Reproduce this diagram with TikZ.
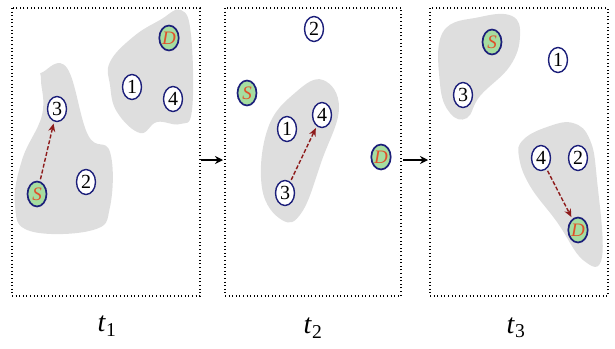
\documentclass[tikz,border=0pt]{standalone}
\usepackage{fontspec}
\setmainfont{Liberation Serif}
\usetikzlibrary{shapes.geometric,arrows.meta}
\definecolor{ringblue}{HTML}{1C1F7A}
\definecolor{nodegreen}{HTML}{A6DDA0}
\definecolor{labelred}{HTML}{E0502A}
\definecolor{blobgray}{HTML}{DEDEDE}
\definecolor{hopred}{HTML}{8E1B1B}
\tikzset{
  mobile/.style={ellipse, draw=ringblue, line width=1.4pt, fill=white,
    minimum width=19pt, minimum height=25pt, inner sep=0pt, font=\fontsize{20}{20}\selectfont},
  endpoint/.style={mobile, fill=nodegreen, line width=1.7pt,
    font=\fontsize{19}{19}\selectfont\itshape\color{labelred}},
  blob/.style={fill=blobgray, draw=none},
  frame/.style={draw=black, line width=1.6pt, dash pattern=on 1pt off 2.6pt},
  hop/.style={draw=hopred, line width=1.4pt, dash pattern=on 4pt off 2pt, -{Stealth[length=8pt,width=7pt]}, shorten <=2pt, shorten >=2pt},
  flow/.style={draw=black, line width=1.2pt, -{Stealth[length=8pt,width=8pt]}},
  timelabel/.style={font=\fontsize{28}{28}\selectfont}
}
\begin{document}
\begin{tikzpicture}[x=1pt,y=-1pt]
\useasboundingbox (0,0) rectangle (615,348);

% ---------- frames ----------
\draw[frame] (12,8) rectangle (200,296);
\draw[frame] (225,8) rectangle (401,296);
\draw[frame] (430,8) rectangle (608,296);

% ---------- clusters ----------
\fill[blob] plot[smooth cycle, tension=0.7] coordinates {
  (43,72) (67,68) (88,135) (110,152) (110,207) (93,230) (30,231) (15,205) (22,160) (42,115) (41,80)};
\fill[blob] plot[smooth cycle, tension=0.7] coordinates {
  (110,62) (133,37) (160,20) (181,10) (191,35) (192,110) (180,124) (157,122) (140,133) (117,112) (110,85)};
\fill[blob] plot[smooth cycle, tension=0.7] coordinates {
  (323,80) (339,108) (322,160) (302,212) (282,220) (262,188) (268,128) (296,92)};
\fill[blob] plot[smooth cycle, tension=0.7] coordinates {
  (443,32) (480,17) (512,16) (520,36) (510,66) (480,96) (467,118) (450,113) (440,84)};
\fill[blob] plot[smooth cycle, tension=0.7] coordinates {
  (523,140) (547,127) (573,123) (590,140) (597,180) (602,257) (583,260) (557,222) (530,186) (519,157)};

% ---------- t1 ----------
\node[endpoint] (aD) at (169,38) {D};
\node[mobile] (a1) at (132,87) {1};
\node[mobile] (a4) at (173,99) {4};
\node[mobile] (a3) at (57,109) {3};
\node[mobile] (a2) at (86,182) {2};
\node[endpoint] (aS) at (37,194) {S};
\draw[hop] (aS) -- (a3);

% ---------- t2 ----------
\node[mobile] (b2) at (314,29) {2};
\node[endpoint] (bS) at (247,93) {S};
\node[mobile] (b1) at (287,129) {1};
\node[mobile] (b4) at (322,115) {4};
\node[mobile] (b3) at (285,193) {3};
\node[endpoint] (bD) at (381,157) {D};
\draw[hop] (b3) -- (b4);

% ---------- t3 ----------
\node[endpoint] (cS) at (492,42) {S};
\node[mobile] (c1) at (558,60) {1};
\node[mobile] (c3) at (463,95) {3};
\node[mobile] (c4) at (541,158) {4};
\node[mobile] (c2) at (578,158) {2};
\node[endpoint] (cD) at (578,230) {D};
\draw[hop] (c4) -- (cD);

% ---------- time steps ----------
\coordinate (f1a) at (201,160);
\coordinate (f1b) at (223,160);
\coordinate (f2a) at (403,160);
\coordinate (f2b) at (428,160);
\draw[flow] (f1a) -- (f1b);
\draw[flow] (f2a) -- (f2b);

\node[timelabel] (t1) at (107,326) {\textit{t}\textsubscript{1}};
\node[timelabel] (t2) at (313,328) {\textit{t}\textsubscript{2}};
\node[timelabel] (t3) at (516,328) {\textit{t}\textsubscript{3}};
\end{tikzpicture}
\end{document}
